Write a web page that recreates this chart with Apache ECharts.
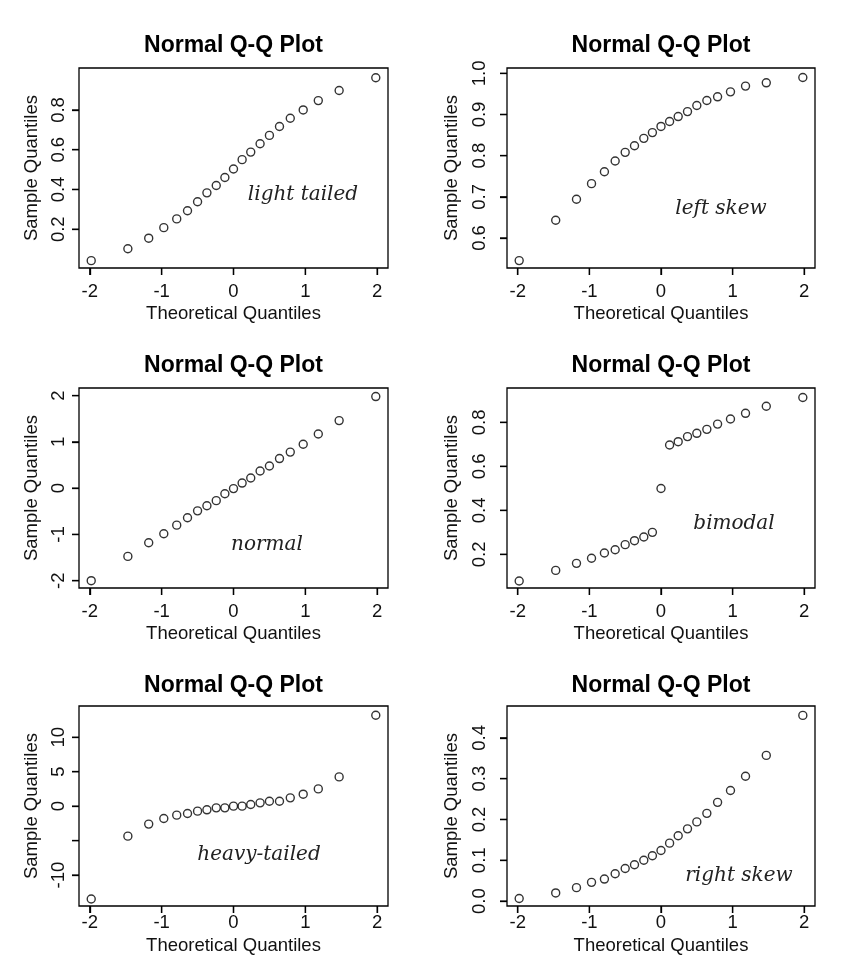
<!DOCTYPE html>
<html><head><meta charset="utf-8">
<script src="https://cdn.jsdelivr.net/npm/echarts@6/dist/echarts.min.js"></script>
<style>html,body{margin:0;padding:0;background:#fff}#c{width:855px;height:971px}</style>
</head><body><div id="c"></div>
<script>
// ---- data ----
const theoreticalQuantiles = [-1.98, -1.47, -1.18, -0.97, -0.79, -0.64, -0.50, -0.37, -0.24, -0.12, 0, 0.12, 0.24, 0.37, 0.50, 0.64, 0.79, 0.97, 1.18, 1.47, 1.98];
const lightTailed = [0.042, 0.102, 0.155, 0.208, 0.252, 0.293, 0.338, 0.383, 0.420, 0.460, 0.503, 0.550, 0.588, 0.630, 0.672, 0.717, 0.758, 0.800, 0.847, 0.898, 0.962];
const leftSkew = [0.545, 0.643, 0.694, 0.732, 0.761, 0.787, 0.808, 0.824, 0.842, 0.856, 0.871, 0.883, 0.895, 0.907, 0.922, 0.934, 0.943, 0.955, 0.969, 0.977, 0.990];
const normalSample = [-2.00, -1.475, -1.18, -0.986, -0.80, -0.64, -0.49, -0.38, -0.27, -0.12, -0.01, 0.11, 0.22, 0.37, 0.48, 0.64, 0.78, 0.95, 1.17, 1.46, 1.98];
const bimodal = [0.079, 0.127, 0.159, 0.182, 0.206, 0.221, 0.244, 0.262, 0.279, 0.300, 0.499, 0.697, 0.712, 0.735, 0.750, 0.768, 0.792, 0.815, 0.841, 0.873, 0.913];
const heavyTailed = [-13.48, -4.35, -2.60, -1.79, -1.30, -1.06, -0.72, -0.53, -0.24, -0.24, 0.00, 0.00, 0.24, 0.48, 0.72, 0.72, 1.21, 1.74, 2.51, 4.25, 13.19];
const rightSkew = [0.0065, 0.020, 0.033, 0.046, 0.054, 0.067, 0.080, 0.089, 0.100, 0.111, 0.124, 0.142, 0.160, 0.177, 0.194, 0.215, 0.242, 0.271, 0.306, 0.357, 0.455];

const xTicks = [-2, -1, 0, 1, 2];
const yTicksLight = [0.2, 0.4, 0.6, 0.8];
const yTicksLeft = [0.6, 0.7, 0.8, 0.9, 1.0];
const yTicksNormal = [-2, -1, 0, 1, 2];
const yTicksBimodal = [0.2, 0.4, 0.6, 0.8];
const yTicksHeavy = [-10, -5, 0, 5, 10];
const yLabelsHeavy = [-10, 0, 5, 10];
const yTicksRight = [0.0, 0.1, 0.2, 0.3, 0.4];

const titleText = 'Normal Q-Q Plot';
const xName = 'Theoretical Quantiles';
const yName = 'Sample Quantiles';
const notes = ['light tailed', 'left skew', 'normal', 'bimodal', 'heavy-tailed', 'right skew'];

// ---- layout ----
const cols = [
  {left: 79, width: 309, labMargin: 11, nameGap: 38},
  {left: 507, width: 308, labMargin: 17.5, nameGap: 45.5}
];
const rows = [
  {top: 68, height: 200, xLabMargin: 14, xNameGap: 36.5, titleY: 45},
  {top: 388, height: 200, xLabMargin: 14, xNameGap: 36.5, titleY: 365},
  {top: 706, height: 200, xLabMargin: 7, xNameGap: 30, titleY: 685}
];
const panels = [
  {vals: lightTailed, ticks: yTicksLight, labels: yTicksLight, dec: 1, min: 0.005, max: 1.011, note: notes[0], c: 0, r: 0, nx: 303, ny: 195},
  {vals: leftSkew, ticks: yTicksLeft, labels: yTicksLeft, dec: 1, min: 0.527, max: 1.013, note: notes[1], c: 1, r: 0, nx: 721, ny: 209},
  {vals: normalSample, ticks: yTicksNormal, labels: yTicksNormal, dec: 0, min: -2.158, max: 2.165, note: notes[2], c: 0, r: 1, nx: 267, ny: 545},
  {vals: bimodal, ticks: yTicksBimodal, labels: yTicksBimodal, dec: 1, min: 0.047, max: 0.956, note: notes[3], c: 1, r: 1, nx: 734, ny: 524},
  {vals: heavyTailed, ticks: yTicksHeavy, labels: yLabelsHeavy, dec: 0, min: -14.49, max: 14.54, note: notes[4], c: 0, r: 2, nx: 259, ny: 855},
  {vals: rightSkew, ticks: yTicksRight, labels: yTicksRight, dec: 1, min: -0.012, max: 0.478, note: notes[5], c: 1, r: 2, nx: 739, ny: 876}
];
const X_MIN = -2.15, X_MAX = 2.15, TICK_LEN = 7, TICK_W = 1.3;

const FONT = "'Liberation Sans', Arial, sans-serif";
const TXT = '#111';
const grid = [], xAxis = [], yAxis = [], series = [], graphic = [];

panels.forEach((p, i) => {
  const c = cols[p.c], r = rows[p.r];
  grid.push({left: c.left, top: r.top, width: c.width, height: r.height, show: true,
    borderColor: '#000', borderWidth: 1.3, backgroundColor: 'transparent', containLabel: false});
  xAxis.push({type: 'value', gridIndex: i, min: X_MIN, max: X_MAX, position: 'bottom',
    name: xName, nameLocation: 'middle', nameGap: r.xNameGap, nameMoveOverlap: false,
    nameTextStyle: {fontFamily: FONT, fontSize: 18.5, color: TXT},
    axisLine: {show: false, onZero: false}, splitLine: {show: false},
    axisTick: {show: true, inside: false, length: TICK_LEN, customValues: xTicks, lineStyle: {color: '#000', width: TICK_W}},
    axisLabel: {show: true, customValues: xTicks, margin: r.xLabMargin, fontFamily: FONT, fontSize: 18.5, color: TXT,
      formatter: v => String(Math.round(v))}
  });
  yAxis.push({type: 'value', gridIndex: i, min: p.min, max: p.max, position: 'left',
    name: yName, nameLocation: 'middle', nameGap: c.nameGap, nameMoveOverlap: false,
    nameTextStyle: {fontFamily: FONT, fontSize: 18.5, color: TXT},
    axisLine: {show: false, onZero: false}, splitLine: {show: false},
    axisTick: {show: true, inside: false, length: TICK_LEN, customValues: p.ticks, lineStyle: {color: '#000', width: TICK_W}},
    axisLabel: {show: true, customValues: p.labels, rotate: 90, margin: c.labMargin, fontFamily: FONT, fontSize: 18.5, color: TXT,
      formatter: v => Number(v).toFixed(p.dec)}
  });
  series.push({type: 'scatter', xAxisIndex: i, yAxisIndex: i, symbol: 'circle', symbolSize: 8,
    itemStyle: {color: 'rgba(0,0,0,0)', borderColor: '#000', borderWidth: 1.4},
    data: theoreticalQuantiles.map((x, k) => [x, p.vals[k]]), silent: true, z: 3});
  graphic.push({type: 'text', x: c.left + c.width / 2, y: r.titleY + 1,
    style: {text: titleText, font: "bold 23px " + FONT, fill: '#000', align: 'center', verticalAlign: 'middle'}});
  graphic.push({type: 'text', x: p.nx, y: p.ny,
    style: {text: p.note, font: "italic 20px 'DejaVu Serif', serif", fill: '#222', align: 'center', verticalAlign: 'middle'}});
});

const chart = echarts.init(document.getElementById('c'), null, {renderer: 'canvas'});
chart.setOption({animation: false, backgroundColor: '#fff', grid, xAxis, yAxis, series});

// map a data point of panel i to pixels through the library's axes
function okPt(pt) { return pt && isFinite(pt[0]) && isFinite(pt[1]); }
function toPx(i, xv, yv) {
  let pt = null;
  try { pt = chart.convertToPixel({gridIndex: i}, [xv, yv]); } catch (e) { pt = null; }
  if (!okPt(pt)) { try { pt = chart.convertToPixel({xAxisIndex: i, yAxisIndex: i}, [xv, yv]); } catch (e) { pt = null; } }
  if (!okPt(pt)) { try { pt = chart.convertToPixel({seriesIndex: i}, [xv, yv]); } catch (e) { pt = null; } }
  if (!okPt(pt)) {
    const p = panels[i], c = cols[p.c], r = rows[p.r];
    pt = [c.left + (xv - X_MIN) / (X_MAX - X_MIN) * c.width,
          r.top + r.height - (yv - p.min) / (p.max - p.min) * r.height];
  }
  return pt;
}

// tick marks (drawn outward from the plot box), doubling the axis ticks
panels.forEach((p, i) => {
  xTicks.forEach(v => {
    const pt = toPx(i, v, p.min);
    graphic.push({type: 'line', silent: true, z: 100,
      shape: {x1: pt[0], y1: pt[1], x2: pt[0], y2: pt[1] + TICK_LEN},
      style: {stroke: '#000', lineWidth: TICK_W}});
  });
  p.ticks.forEach(v => {
    const pt = toPx(i, X_MIN, v);
    graphic.push({type: 'line', silent: true, z: 100,
      shape: {x1: pt[0] - TICK_LEN, y1: pt[1], x2: pt[0], y2: pt[1]},
      style: {stroke: '#000', lineWidth: TICK_W}});
  });
});
chart.setOption({graphic});
</script></body></html>
